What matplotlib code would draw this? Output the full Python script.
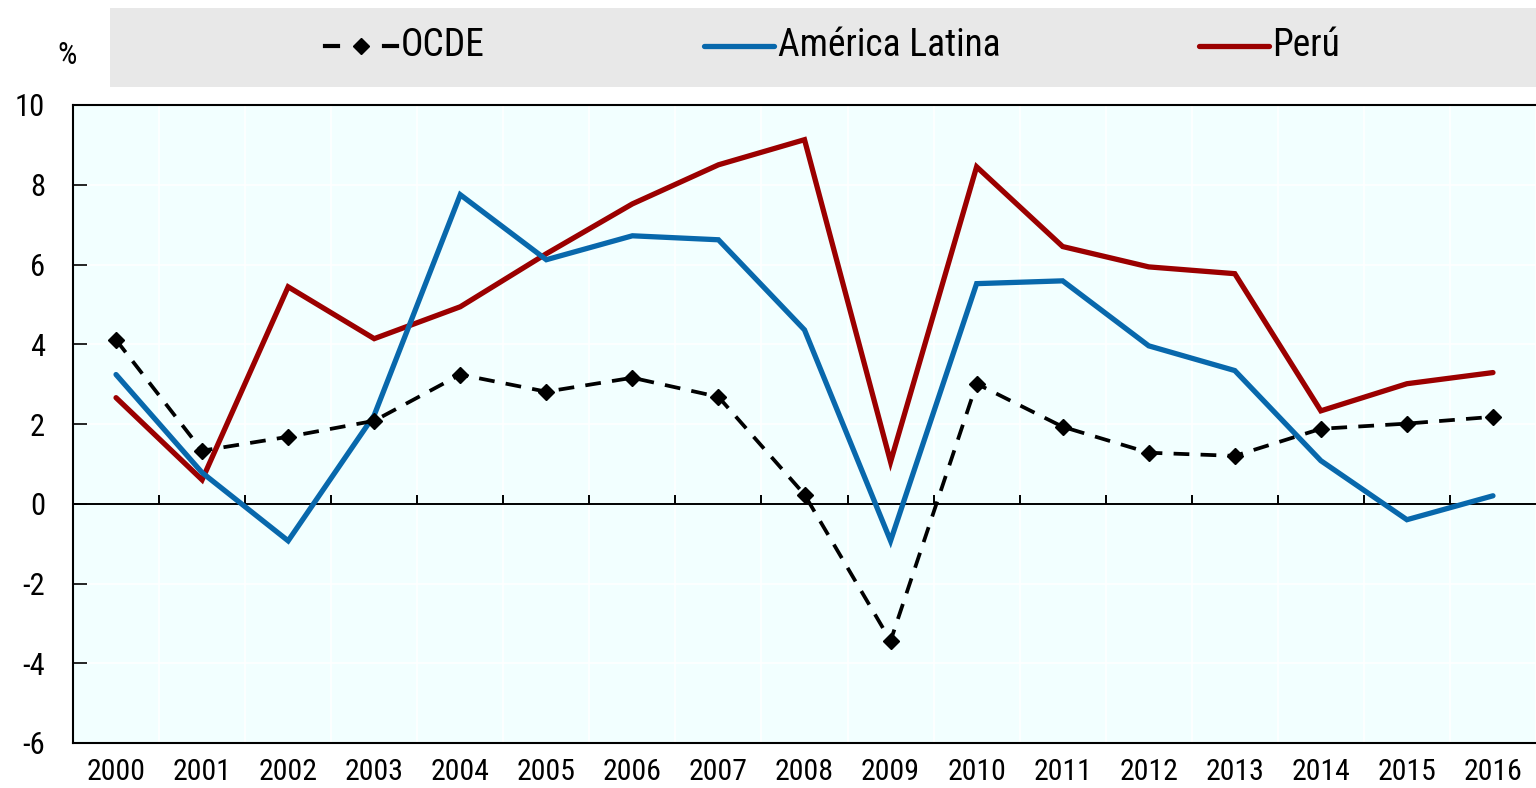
import matplotlib
matplotlib.use("Agg")
import matplotlib.pyplot as plt
from matplotlib.lines import Line2D
from matplotlib.patches import Rectangle
import numpy as np

years = ["2000", "2001", "2002", "2003", "2004", "2005", "2006", "2007", "2008",
         "2009", "2010", "2011", "2012", "2013", "2014", "2015", "2016"]
ocde = [4.11, 1.33, 1.68, 2.08, 3.24, 2.81, 3.16, 2.68, 0.23,
        -3.44, 3.01, 1.93, 1.28, 1.20, 1.88, 2.01, 2.18]
america_latina = [3.24, 0.78, -0.93, 2.22, 7.75, 6.12, 6.72, 6.62, 4.36,
                  -0.93, 5.52, 5.59, 3.96, 3.34, 1.08, -0.40, 0.20]
peru = [2.66, 0.60, 5.44, 4.14, 4.94, 6.27, 7.52, 8.50, 9.13,
        1.05, 8.45, 6.45, 5.94, 5.77, 2.33, 3.01, 3.29]
series_names = ["OCDE", "América Latina", "Perú"]
y_ticks = [-6, -4, -2, 0, 2, 4, 6, 8, 10]

BLUE = "#0868AC"
RED = "#9B0000"
NARROW = ["Roboto Condensed", "Liberation Sans", "DejaVu Sans"]
DASH = (0, (4.2, 3.0))

W, H = 1536, 788
fig = plt.figure(figsize=(W / 100, H / 100), dpi=100)
ax = fig.add_axes([73 / W, 1 - 743 / H, 1 - 73 / W, (743 - 105) / H])
ax.set_facecolor("#F2FFFF")

x = np.arange(len(years))
ax.plot(x, peru, color=RED, lw=3.8, solid_capstyle="round", solid_joinstyle="miter", zorder=3)
ax.plot(x, america_latina, color=BLUE, lw=3.8, solid_capstyle="round", solid_joinstyle="miter", zorder=4)
ax.plot(x, ocde, color="black", lw=2.7, ls=DASH, marker="D",
        markersize=8.5, zorder=5)

ax.set_xlim(-0.5, len(years) - 0.5)
ax.set_ylim(-6, 10)
ax.set_yticks(y_ticks)
ax.set_yticklabels([str(v) for v in y_ticks], family=NARROW, fontsize=22)
ax.set_xticks(x)
ax.set_xticklabels(years, family=NARROW, fontsize=21.5)
ax.tick_params(axis="x", length=0, pad=11)
ax.tick_params(axis="y", direction="in", length=10, width=1.2, pad=20)

# white grid
for b in np.arange(-0.5, len(years), 1.0):
    ax.axvline(b, color="white", lw=1.2, zorder=0.5)
for t in y_ticks:
    ax.axhline(t, color="white", lw=1.2, zorder=0.5)

ax.axhline(0, color="black", lw=1.4, zorder=2)
ax.vlines(np.arange(0.5, len(years) - 0.5, 1.0), 0, 0.22, color="black", lw=1.4, zorder=2)

for s in ["left", "bottom", "top"]:
    ax.spines[s].set_color("black")
    ax.spines[s].set_linewidth(1.5)
ax.spines["right"].set_visible(False)

# legend band
fig.add_artist(Rectangle((110 / W, 1 - 87 / H), (W - 110) / W, 79 / H,
                         transform=fig.transFigure, facecolor="#E8E8E8",
                         edgecolor="none", zorder=0))
ly = 1 - 46 / H
fig.add_artist(Line2D([325 / W, 338 / W], [ly, ly], color="black", lw=3.0,
                      transform=fig.transFigure))
fig.add_artist(Line2D([384 / W, 397 / W], [ly, ly], color="black", lw=3.0,
                      transform=fig.transFigure))
fig.add_artist(Line2D([361 / W], [ly], color="black", marker="D", markersize=8.5,
                      transform=fig.transFigure))
fig.add_artist(Line2D([704 / W, 774 / W], [ly, ly], color=BLUE, lw=3.8,
                      solid_capstyle="round", transform=fig.transFigure))
fig.add_artist(Line2D([1199 / W, 1269 / W], [ly, ly], color=RED, lw=3.8,
                      solid_capstyle="round", transform=fig.transFigure))
fig.text(401 / W, ly, series_names[0], family=NARROW, fontsize=27, va="center", ha="left")
fig.text(778 / W, ly, series_names[1], family=NARROW, fontsize=27, va="center", ha="left")
fig.text(1272 / W, ly, series_names[2], family=NARROW, fontsize=27, va="center", ha="left")
fig.text(67 / W, 1 - 56 / H, "%", family=NARROW, fontsize=22, va="center", ha="center")

fig.savefig("out.png", dpi=100)
